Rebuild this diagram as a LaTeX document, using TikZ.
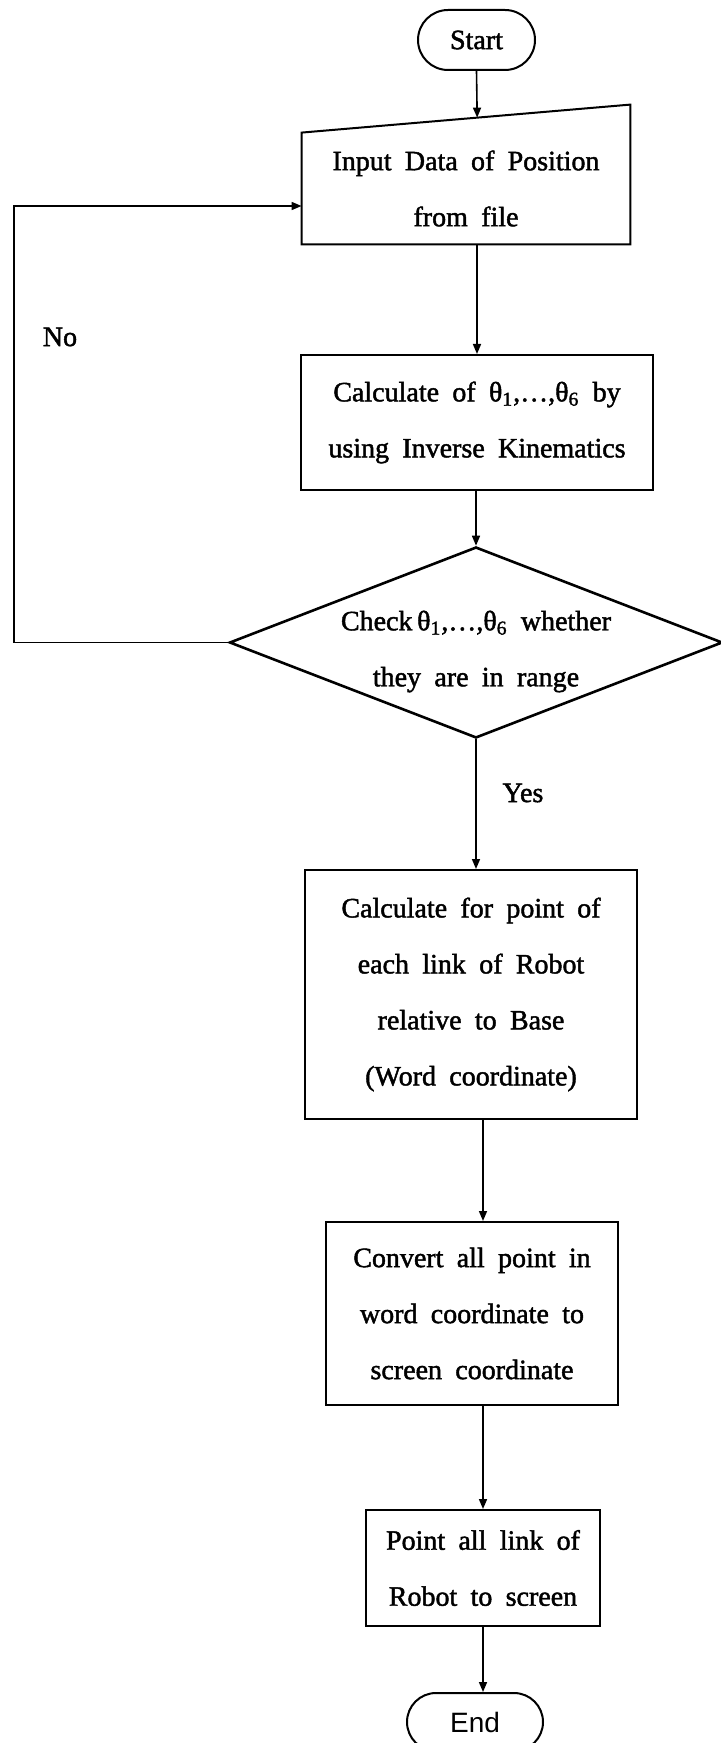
\documentclass[tikz,border=0pt]{standalone}
\usepackage{fontspec}
\setmainfont{Liberation Serif}[WordSpace=1.9, FakeBold=1.6]
\newfontfamily\endfont{Liberation Sans}
\usetikzlibrary{arrows.meta, calc, shapes.geometric, shapes.misc}
\begin{document}
\begin{tikzpicture}[x=0.5pt,y=-0.5pt]
            \tikzstyle{every node}+=[inner sep=0pt, font=\fontsize{14pt}{28pt}\selectfont, align=center]
            \tikzstyle{box}=[draw=black, line width=1pt, rectangle]
            \tikzstyle{term}=[draw=black, line width=1pt, rounded rectangle]
            \tikzstyle{arr}=[black, line width=0.8pt, -{Triangle[length=5pt,width=4pt]}]
            \useasboundingbox (0,0) rectangle (721,1743);
            \node [term, minimum width=58.5pt, minimum height=30pt] (start) at (476.5,40) {Start};
            \node [minimum width=164pt, minimum height=55.5pt] (input) at (466,188.5) {Input Data of Position\\from file};
            \draw [black, line width=1pt] (input.south west) -- (input.north west) -- ([yshift=14pt]input.north east) -- (input.south east) -- cycle;
            \node [box, minimum width=176pt, minimum height=67.5pt] (calc) at (477,422.5) {Calculate of θ\textsubscript{1},…,θ\textsubscript{6} by\\using Inverse Kinematics};
            \node [diamond, draw=black, line width=1.3pt, minimum width=246.5pt, minimum height=95.5pt, aspect=2.6] (check) at (476,642.5) {};
            \node (checktext) at ([yshift=-4.5pt]check.center) {Check\,θ\textsubscript{1},…,θ\textsubscript{6} whether\\they are in range};
            \node [box, minimum width=166pt, minimum height=124.5pt] (links) at (471,994.5) {Calculate for point of\\each link of Robot\\relative to Base\\(Word coordinate)};
            \node [box, minimum width=146pt, minimum height=91.5pt] (convert) at (472,1313.5) {Convert all point in\\word coordinate to\\screen coordinate};
            \node [box, minimum width=117pt, minimum height=58pt] (plot) at (483,1568) {Point all link of\\Robot to screen};
            \node [term, minimum width=68pt, minimum height=29pt, font=\endfont\fontsize{14pt}{28pt}\selectfont] (end) at (475,1722) {End};
            \node (no) at (60,337) {No};
            \node (yes) at (523,793) {Yes};
            \coordinate (back) at (14,642.5);
            \draw [arr] (start.south) -- ($(input.north west)!0.534!([yshift=14pt]input.north east)$);
            \draw [arr] (input.south -| calc.north) -- (calc.north);
            \draw [arr] (calc.south -| check.north) -- (check.north);
            \draw [arr] (check.south) -- (check.south |- links.north);
            \draw [arr] (links.south -| plot.north) -- (convert.north -| plot.north);
            \draw [arr] (convert.south -| plot.north) -- (plot.north);
            \draw [arr] (plot.south) -- (plot.south |- end.north);
            \draw [arr] (check.west) -- (back) |- ([yshift=-8.75pt]input.west);
\end{tikzpicture}
\end{document}
